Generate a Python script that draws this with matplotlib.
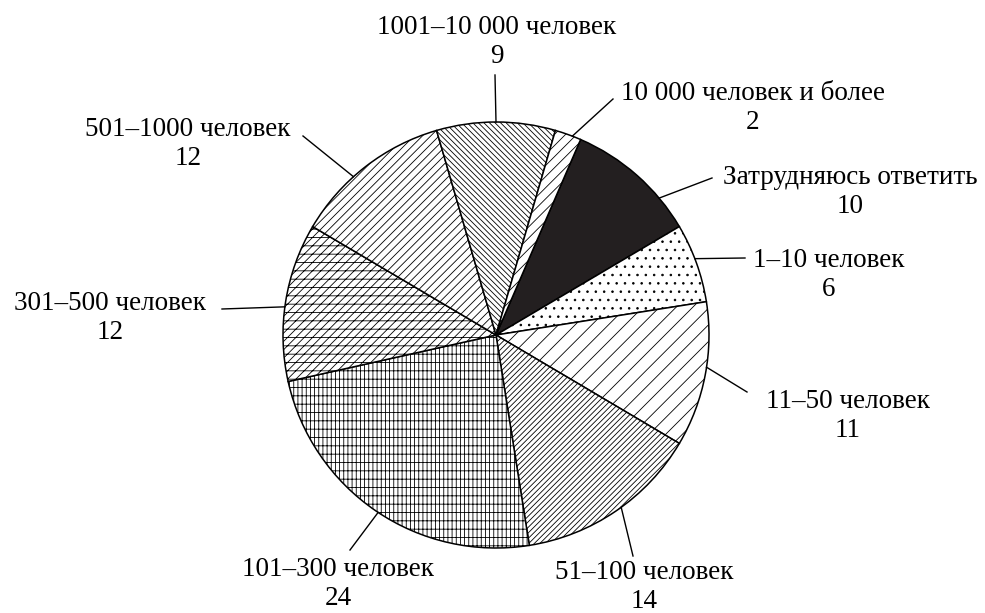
import matplotlib
matplotlib.use("Agg")
import numpy as np
import matplotlib.pyplot as plt

plt.rcParams['font.family'] = ['Liberation Serif', 'DejaVu Serif']
plt.rcParams['hatch.linewidth'] = 0.6

# data, clockwise from the black slice
labels = ['Затрудняюсь ответить', '1–10 человек', '11–50 человек', '51–100 человек',
          '101–300 человек', '301–500 человек', '501–1000 человек',
          '1001–10 000 человек', '10 000 человек и более']
values = [10, 6, 11, 14, 24, 12, 12, 9, 2]
hatches = [None, '..', '//', '//////', '||||--', '////--', '////', '\\\\\\\\\\\\', '///']
colors = ['#231f20'] + ['white'] * 8

# label layout in pixels (from top-left): block centre, leader end, attach angle on rim
text_pos = [(850, 192), (829, 275), (848, 416), (644, 587), (338, 584),
            (110, 318), (188, 144), (497, 42), (753, 108)]
line_end = [(712, 178), (745, 258), (747, 392), (633, 556), (350, 550),
            (222, 309), (303, 136), (495, 75), (613, 99)]
attach = [40, 21, -8.7, -54, -123.6, 172.4, 132, 90, 69]

W, H = 985, 613
cx, cy, R = 496, H - 335, 213

fig = plt.figure(figsize=(9.85, 6.13), dpi=100)
ax = fig.add_axes([0, 0, 1, 1])

wedges, _ = ax.pie(values, startangle=66.6, counterclock=False, center=(cx, cy),
                   radius=R, colors=colors, frame=True,
                   wedgeprops=dict(edgecolor='black', linewidth=1.1))
for w, h in zip(wedges, hatches):
    if h:
        w.set_hatch(h)
ax.set_xlim(0, W)
ax.set_ylim(0, H)
ax.set_aspect('equal')
ax.axis('off')

for i, w in enumerate(wedges):
    a = np.deg2rad(attach[i])
    ex, ey = cx + R * np.cos(a), cy + R * np.sin(a)
    lx, ly = line_end[i]
    ax.plot([ex, lx], [ey, H - ly], color='black', lw=1.0)
    tx, ty = text_pos[i]
    ax.text(tx, H - ty, f'{labels[i]}\n{values[i]}', ha='center', va='center',
            fontsize=19.5, linespacing=1.2)

fig.savefig('out.png', dpi=100, facecolor='white')
